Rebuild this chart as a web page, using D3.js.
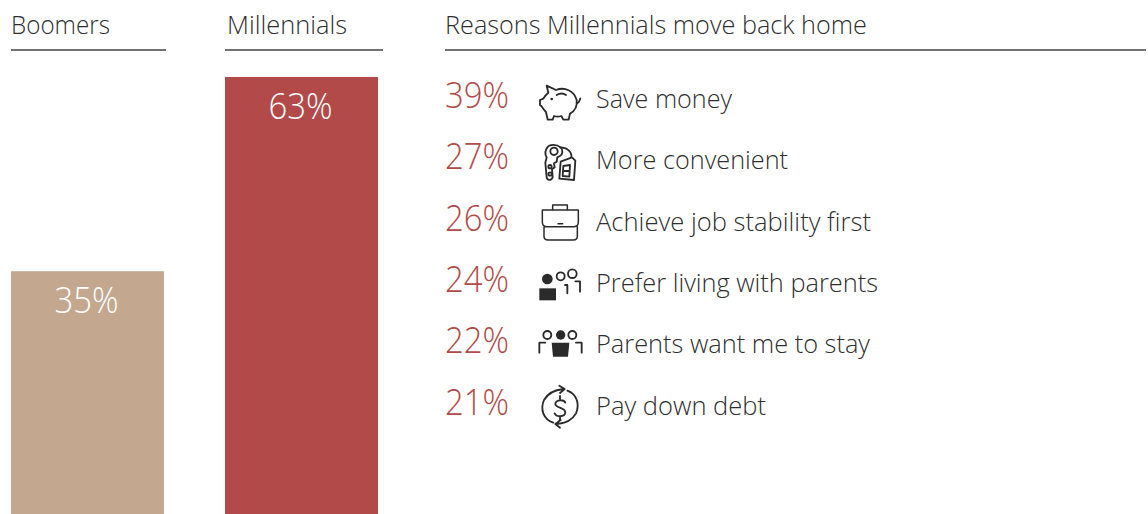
<!DOCTYPE html>
<html>
<head>
<meta charset="utf-8">
<script src="https://cdn.jsdelivr.net/npm/d3@7/dist/d3.min.js"></script>
<style>
html,body{margin:0;padding:0;background:#fff;overflow:hidden}
svg{display:block}
text{font-family:"Open Sans",sans-serif;font-weight:300}
</style>
</head>
<body>
<svg id="chart" width="1148" height="514"></svg>
<script>
// Generations compared
const generations = ["Boomers", "Millennials"];
const shares = [35, 63];
const barColors = ["#c3a88f", "#b14a48"];

// Reasons list
const reasons = ["Save money", "More convenient", "Achieve job stability first",
  "Prefer living with parents", "Parents want me to stay", "Pay down debt"];
const reasonShares = [39, 27, 26, 24, 22, 21];
const reasonIcons = ["pig", "keys", "case", "family", "parents", "debt"];
const reasonWidths = [136, 192, 275, 282, 274, 170];
const reasonsTitle = "Reasons Millennials move back home";

const svg = d3.select("#chart");
const ink = "#2f2f2f";
const pctWidth = 64;

// Column scale: each generation occupies one band
const x = d3.scaleBand().domain(generations).range([11, 378]).paddingInner(0.285).paddingOuter(0);
const y = d3.scaleLinear().domain([0, 63]).range([514, 77]);
const row = d3.scalePoint().domain(reasons).range([96, 402.5]);

// Column headings with their rules
const heads = [
  {t: generations[0], x: 11, x1: 11, x2: 166, w: 99},
  {t: generations[1], x: 227, x1: 225, x2: 383, w: 120},
  {t: reasonsTitle, x: 445, x1: 445, x2: 1146, w: 422}
];
svg.selectAll("text.head").data(heads).join("text")
  .attr("class", "head").attr("x", d => d.x).attr("y", 34)
  .attr("font-size", 25.3).attr("fill", ink)
  .attr("textLength", d => d.w).attr("lengthAdjust", "spacingAndGlyphs")
  .text(d => d.t);
svg.selectAll("line.rule").data(heads).join("line")
  .attr("class", "rule").attr("x1", d => d.x1).attr("x2", d => d.x2)
  .attr("y1", 50).attr("y2", 50).attr("stroke", "#444").attr("stroke-width", 1.4);

// Bars
svg.selectAll("rect.bar").data(generations).join("rect")
  .attr("class", "bar")
  .attr("x", d => x(d)).attr("width", x.bandwidth())
  .attr("y", (d, i) => y(shares[i])).attr("height", (d, i) => y(0) - y(shares[i]))
  .attr("fill", (d, i) => barColors[i]);
svg.selectAll("text.barlab").data(generations).join("text")
  .attr("class", "barlab")
  .attr("x", d => x(d) + x.bandwidth() / 2 - pctWidth / 2 - 1)
  .attr("y", (d, i) => y(shares[i]) + 42)
  .attr("font-size", 36).attr("fill", "#fff")
  .attr("textLength", pctWidth).attr("lengthAdjust", "spacingAndGlyphs")
  .text((d, i) => shares[i] + "%");

// Reason rows
svg.selectAll("text.pct").data(reasons).join("text")
  .attr("class", "pct").attr("x", 445).attr("y", d => row(d) + 12)
  .attr("font-size", 36).attr("fill", "#b14a48")
  .attr("textLength", pctWidth).attr("lengthAdjust", "spacingAndGlyphs")
  .text((d, i) => reasonShares[i] + "%");
svg.selectAll("text.reason").data(reasons).join("text")
  .attr("class", "reason").attr("x", 596).attr("y", d => row(d) + 12)
  .attr("font-size", 25.3).attr("fill", ink)
  .attr("textLength", (d, i) => reasonWidths[i]).attr("lengthAdjust", "spacingAndGlyphs")
  .text(d => d);

// Pictograms, drawn on a 3x grid and scaled down
const drawIcon = {
  pig(g) {
    g.append("path").attr("d", "M50 47L78 60C104 50 132 62 140 90C143 110 132 124 120 131L116 149L100 149L94 138C86 141 80 141 72 138L68 149L53 149L48 126C42 120 38 114 34 108L30 105L30 90L40 86C44 78 50 72 55 68Z");
    g.append("path").attr("d", "M140 100C146 100 149 92 151 85M80 75C90 69 100 69 108 75");
    g.append("circle").attr("cx", 65).attr("cy", 87).attr("r", 4).attr("class", "solid");
  },
  keys(g) {
    g.append("path").attr("d", "M52 232C58 222 80 222 92 232C100 240 98 254 90 258L82 262L80 275L72 280L74 292L66 298L68 322C64 332 52 332 50 322L46 278L50 262C44 252 46 240 52 232Z");
    g.append("circle").attr("cx", 72).attr("cy", 244).attr("r", 11);
    g.append("circle").attr("cx", 60).attr("cy", 290).attr("r", 5);
    g.append("circle").attr("cx", 60).attr("cy", 312).attr("r", 5);
    g.append("path").attr("d", "M90 232C112 232 126 246 124 262M92 275L126 262L136 272L132 330L88 326Z");
    g.append("path").attr("d", "M100 288L120 285L118 320L98 318ZM100 303L119 303");
  },
  case(g) {
    g.append("path").attr("stroke-width", 4.5).attr("d", "M68 45L68 30L112 30L112 45M37 45L145 45L145 82C145 90 140 95 132 95L50 95C42 95 37 90 37 82ZM42 95L42 124C42 131 47 135 54 135L130 135C137 135 142 131 142 124L142 95M84 86L98 86");
  },
  family(g) {
    g.append("circle").attr("cx", 52).attr("cy", 57).attr("r", 16).attr("class", "solid");
    g.append("rect").attr("x", 28).attr("y", 85).attr("width", 50).attr("height", 36).attr("class", "solid");
    g.append("circle").attr("cx", 92).attr("cy", 49).attr("r", 12);
    g.append("circle").attr("cx", 127).attr("cy", 41).attr("r", 13);
    g.append("path").attr("d", "M105 75L112 75L112 100M136 64L150 64L150 95");
  },
  parents(g) {
    g.append("circle").attr("cx", 52).attr("cy", 45).attr("r", 12);
    g.append("circle").attr("cx", 92).attr("cy", 45).attr("r", 14).attr("class", "solid");
    g.append("circle").attr("cx", 127).attr("cy", 45).attr("r", 12);
    g.append("path").attr("class", "solid").attr("d", "M65 68L118 68L114 110L69 110Z");
    g.append("path").attr("d", "M46 68L28 68L28 98M138 68L155 68L155 98");
  },
  debt(g) {
    g.append("path").attr("d", "M70 308C40 298 30 268 42 240C52 222 72 210 100 207M88 197L104 207L90 219");
    g.append("path").attr("d", "M112 212C140 222 150 252 138 280C128 298 108 310 80 312M92 300L76 312L90 323");
    g.append("path").attr("d", "M106 248C102 238 78 238 76 251C75 266 106 260 106 278C104 292 78 292 74 280M90 228L90 238M90 290L90 300");
  }
};
// Grid origin of each pictogram's crop on the page
const iconOrigins = [[530, 70], [530, 70], [530, 195], [530, 260], [530, 320], [530, 320]];
reasonIcons.forEach((name, i) => {
  const g = svg.append("g")
    .attr("transform", `translate(${iconOrigins[i][0]},${iconOrigins[i][1]}) scale(${1 / 3})`)
    .attr("fill", "none").attr("stroke", "#2a2a2a").attr("stroke-width", 5.5)
    .attr("stroke-linejoin", "round").attr("stroke-linecap", "round");
  drawIcon[name](g);
  g.selectAll(".solid").attr("fill", "#2a2a2a").attr("stroke", "none");
});
</script>
</body>
</html>
